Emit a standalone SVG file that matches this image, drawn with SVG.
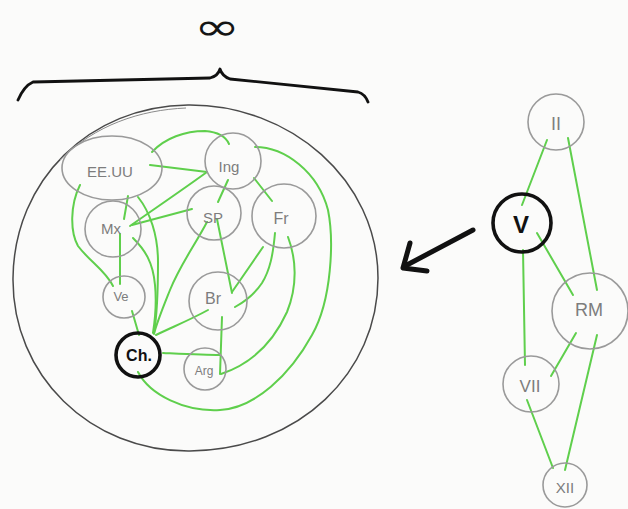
<svg xmlns="http://www.w3.org/2000/svg" width="628" height="509" viewBox="0 0 628 509">
  <defs>
    <style>
      .node { fill: none; stroke: #9a9a9a; stroke-width: 1.6; }
      .node-key { fill: none; stroke: #111; stroke-width: 3.6; }
      .lbl { font-family: "Liberation Sans", "DejaVu Sans", sans-serif; fill: #7d7d7d; text-anchor: middle; dominant-baseline: central; }
      .lbl-key { font-family: "Liberation Sans", "DejaVu Sans", sans-serif; fill: #111; text-anchor: middle; dominant-baseline: central; font-weight: bold; }
      .edge { fill: none; stroke: #5fcf4c; stroke-width: 2; stroke-linecap: round; }
      .ink { fill: none; stroke: #111; stroke-linecap: round; stroke-linejoin: round; }
    </style>
  </defs>

  <rect width="628" height="509" fill="#fbfbfa"/>

  <!-- infinity over the brace -->
  <text x="194" y="40" font-family="DejaVu Sans, sans-serif" font-size="38" textLength="46" lengthAdjust="spacingAndGlyphs" fill="#151515">∞</text>

  <!-- curly brace -->
  <path class="ink" stroke-width="2.8" d="M18,100 Q24,86 33,82 L210,78 Q218,76 220,69 Q222,76 230,79 L358,92 Q365,94 368,102"/>

  <!-- enclosing set -->
  <path d="M188,105 C90,106 14,180 13,278 C12,375 90,452 190,451 C300,450 378,372 378,278 C378,180 290,104 188,105 Z" fill="none" stroke="#4a4a4a" stroke-width="1.5"/>
  <path d="M60,160 C95,125 140,110 186,108" fill="none" stroke="#8a8a8a" stroke-width="1"/>

  <!-- connectors -->
  <g id="connectors">
    <!-- left graph -->
    <path class="edge" d="M150,165 L207,172"/>
    <path class="edge" d="M152,152 C165,138 185,131 205,131 C218,132 226,137 229,144"/>
    <path class="edge" d="M207,172 C185,188 160,205 130,226"/>
    <path class="edge" d="M192,209 L132,225"/>
    <path class="edge" d="M128,196 L124,219"/>
    <path class="edge" d="M80,185 C70,205 70,232 78,246 C90,262 105,270 113,286"/>
    <path class="edge" d="M120,234 L120,284"/>
    <path class="edge" d="M138,197 C150,212 158,235 158,262 C158,290 157,315 154,333"/>
    <path class="edge" d="M133,238 C145,250 153,262 155,285 C157,305 155,320 153,333"/>
    <path class="edge" d="M207,222 C195,245 180,265 170,290 C162,310 157,322 154,334"/>
    <path class="edge" d="M132,311 L139,335"/>
    <path class="edge" d="M228,180 L218,202"/>
    <path class="edge" d="M254,178 L272,201"/>
    <path class="edge" d="M217,219 L232,293"/>
    <path class="edge" d="M263,247 L232,292"/>
    <path class="edge" d="M275,233 C273,255 270,270 262,283 C254,295 244,302 235,307"/>
    <path class="edge" d="M208,310 C190,320 170,328 156,335"/>
    <path class="edge" d="M163,353 C185,354 205,355 220,355"/>
    <path class="edge" d="M222,317 L220,374"/>
    <path class="edge" d="M288,237 C296,258 298,285 287,312 C272,345 248,365 221,374"/>
    <path class="edge" d="M255,147 C285,147 318,172 328,210 C334,240 332,300 312,335 C290,375 255,408 220,410 C185,412 150,395 138,372"/>

    <!-- right graph -->
    <path class="edge" d="M547,140 L522,205"/>
    <path class="edge" d="M568,138 L597,290"/>
    <path class="edge" d="M537,233 L573,295"/>
    <path class="edge" d="M523,250 L525,365"/>
    <path class="edge" d="M576,333 L551,376"/>
    <path class="edge" d="M597,335 L565,470"/>
    <path class="edge" d="M527,400 L553,468"/>
  </g>

  <!-- pointer from the right graph to the set -->
  <g id="pointer">
    <path class="ink" stroke-width="5" d="M473,230 L405,266"/>
    <path class="ink" stroke-width="5" d="M410,243 L403,268 L427,271"/>
  </g>

  <!-- left graph nodes -->
  <g id="n-eeuu"><ellipse class="node" cx="112" cy="168" rx="50" ry="32"/><text class="lbl" x="110" y="171" font-size="15">EE.UU</text></g>
  <g id="n-ing"><circle class="node" cx="233" cy="161" r="28"/><text class="lbl" x="229" y="166" font-size="15">Ing</text></g>
  <g id="n-sp"><circle class="node" cx="214" cy="213" r="27"/><text class="lbl" x="213" y="217" font-size="15">SP</text></g>
  <g id="n-fr"><circle class="node" cx="284" cy="216" r="32"/><text class="lbl" x="281" y="218" font-size="16">Fr</text></g>
  <g id="n-mx"><circle class="node" cx="113" cy="229" r="28"/><text class="lbl" x="111" y="228" font-size="15">Mx</text></g>
  <g id="n-ve"><circle class="node" cx="124" cy="297" r="21"/><text class="lbl" x="121" y="296" font-size="13">Ve</text></g>
  <g id="n-br"><circle class="node" cx="218" cy="301" r="29"/><text class="lbl" x="213" y="298" font-size="16">Br</text></g>
  <g id="n-ch"><circle class="node-key" cx="138" cy="355" r="22"/><text class="lbl-key" x="139" y="355" font-size="16">Ch.</text></g>
  <g id="n-arg"><circle class="node" cx="205" cy="369" r="21"/><text class="lbl" x="204" y="371" font-size="12">Arg</text></g>

  <!-- right graph nodes -->
  <g id="n-ii"><circle class="node" cx="556" cy="122" r="28"/><text class="lbl" x="556" y="124" font-size="18">II</text></g>
  <g id="n-v"><circle class="node-key" cx="522" cy="223" r="29"/><text class="lbl-key" x="521" y="224" font-size="24" font-weight="normal">V</text></g>
  <g id="n-rm"><circle class="node" cx="590" cy="311" r="38"/><text class="lbl" x="589" y="310" font-size="18">RM</text></g>
  <g id="n-vii"><circle class="node" cx="531" cy="384" r="28"/><text class="lbl" x="530" y="386" font-size="17">VII</text></g>
  <g id="n-xii"><circle class="node" cx="565" cy="485" r="22"/><text class="lbl" x="565" y="487" font-size="15">XII</text></g>
</svg>
